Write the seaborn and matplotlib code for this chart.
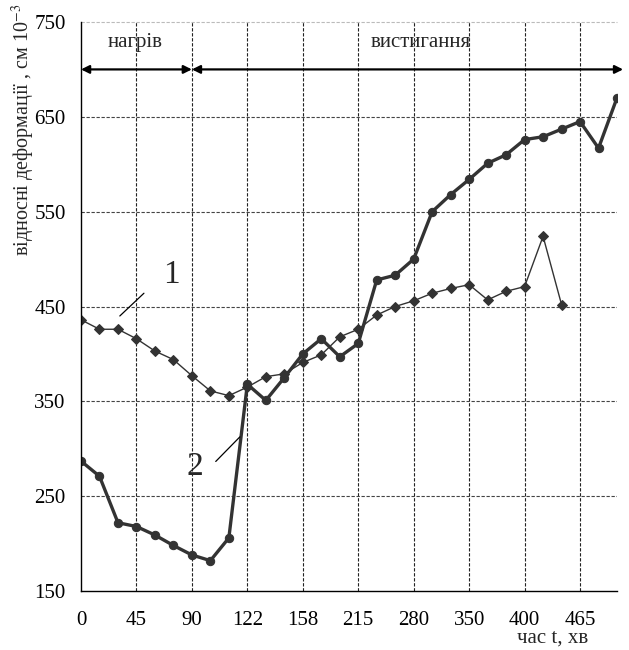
import numpy as np
import pandas as pd
import matplotlib
matplotlib.use("Agg")
import matplotlib.pyplot as plt
import seaborn as sns

# ---- data ----
tick_labels = ["0", "45", "90", "122", "158", "215", "280", "350", "400", "465"]
y_ticks = [150, 250, 350, 450, 550, 650, 750]

series1 = [436, 426, 426, 416, 403, 394, 377, 361, 356, 365, 376, 379, 391, 399,
           418, 426, 441, 450, 456, 464, 469, 473, 457, 466, 471, 524, 452]
series2 = [287, 271, 222, 218, 209, 198, 188, 182, 206, 368, 351, 375, 400, 416,
           397, 411, 478, 483, 500, 550, 568, 584, 601, 610, 626, 629, 637, 645,
           617, 670]
steps_per_tick = 3

df1 = pd.DataFrame({"x": np.arange(len(series1)) / steps_per_tick, "y": series1})
df2 = pd.DataFrame({"x": np.arange(len(series2)) / steps_per_tick, "y": series2})

sns.set_style("white")
plt.rcParams["font.family"] = ["Liberation Serif", "DejaVu Serif"]
plt.rcParams["mathtext.fontset"] = "stix"

fig = plt.figure(figsize=(6.29, 6.5), dpi=100)
ax = fig.add_axes([81 / 629, 59 / 650, 536 / 629, 569 / 650])

col = "#333333"
sns.lineplot(data=df1, x="x", y="y", ax=ax, color=col, lw=1.0, marker="D",
             markersize=4.8, markeredgecolor=col, markerfacecolor=col)
sns.lineplot(data=df2, x="x", y="y", ax=ax, color=col, lw=2.4, marker="o",
             markersize=6, markeredgecolor=col, markerfacecolor=col)

xmax = (len(series2) - 1) / steps_per_tick
ax.set_xlim(0, xmax)
ax.set_ylim(150, 750)
ax.set_xticks(np.arange(len(tick_labels)))
ax.set_xticklabels(tick_labels)
ax.set_yticks(y_ticks)
ax.set_yticklabels([str(v) for v in y_ticks])

ax.tick_params(axis="x", direction="inout", length=7, width=1, pad=11, labelsize=15,
               colors="black")
ax.tick_params(axis="y", direction="out", length=5, width=1, pad=6, labelsize=15,
               colors="black")

for s in ["top", "right"]:
    ax.spines[s].set_visible(False)
for s in ["left", "bottom"]:
    ax.spines[s].set_color("black")
    ax.spines[s].set_linewidth(1.0)

# grid
for xv in range(1, len(tick_labels)):
    ax.axvline(xv, color="#222222", lw=0.8, ls=(0, (3, 1.5)), zorder=0)
for yv in y_ticks[1:-1]:
    ax.axhline(yv, color="#444444", lw=0.8, ls=(0, (3, 1.5)), zorder=0)
ax.axhline(750, color="#bbbbbb", lw=0.8, ls=(0, (3, 1.5)), zorder=0, clip_on=False)

ax.set_xlabel("")
ax.set_ylabel("")

# phase arrows
ax.annotate("", xy=(0, 700), xytext=(2, 700),
            arrowprops=dict(arrowstyle="<|-|>", color="black", lw=1.6,
                            mutation_scale=12, shrinkA=0, shrinkB=0))
ax.annotate("", xy=(2, 700), xytext=(xmax + 0.11, 700), annotation_clip=False,
            arrowprops=dict(arrowstyle="<|-|>", color="black", lw=1.6,
                            mutation_scale=12, shrinkA=0, shrinkB=0))
ax.text(0.98, 728, "нагрів", ha="center", va="center", fontsize=15)
ax.text(6.12, 728, "вистигання", ha="center", va="center", fontsize=15)

# curve labels
ax.text(1.64, 483, "1", ha="center", va="center", fontsize=24)
ax.plot([0.70, 1.135], [440, 464], color="black", lw=0.9)
ax.text(2.05, 281, "2", ha="center", va="center", fontsize=24)
ax.plot([2.43, 2.865], [286.6, 312.5], color="black", lw=0.9)

# axis titles
ax.text(-0.097, 1.032, "відносні деформації , см 10$^{-3}$", transform=ax.transAxes,
        rotation=90, rotation_mode="anchor", ha="right", va="baseline", fontsize=14.5)
ax.text(0.879, -0.091, "час t, хв", transform=ax.transAxes, ha="center",
        va="baseline", fontsize=15)

fig.savefig("out.png", dpi=100)
